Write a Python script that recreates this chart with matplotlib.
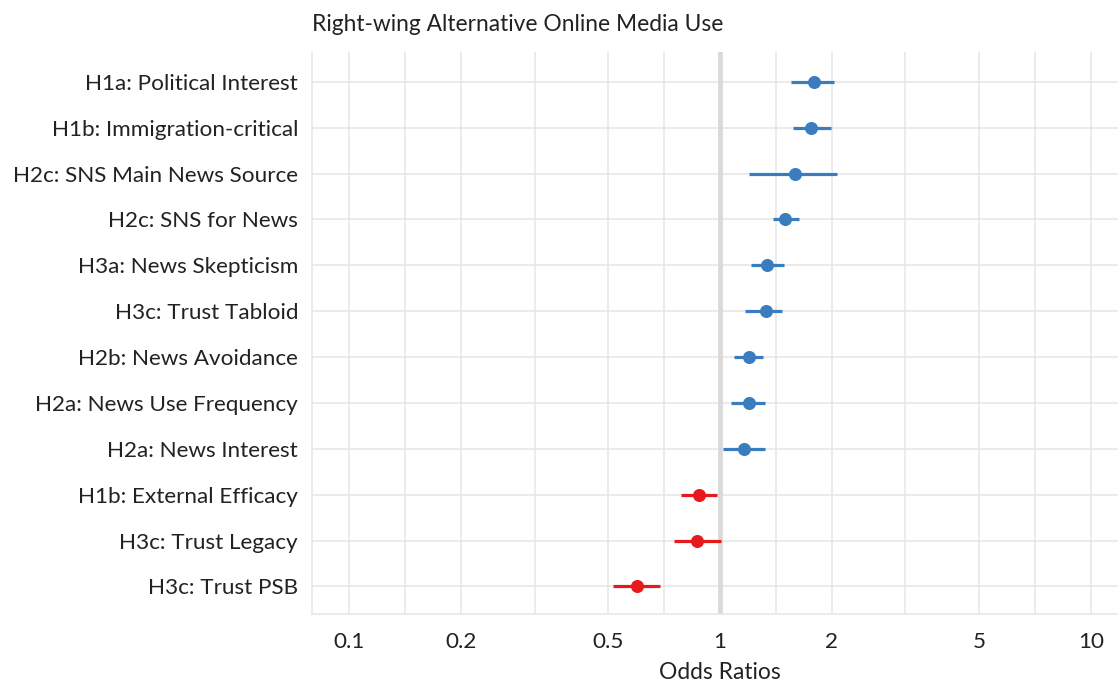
import numpy as np
import matplotlib
matplotlib.use('Agg')
import matplotlib.pyplot as plt
from matplotlib.ticker import FixedLocator, FixedFormatter, NullFormatter

plt.rcParams['font.family'] = ['Lato', 'DejaVu Sans']

# data, top row first
labels = ['H1a: Political Interest', 'H1b: Immigration-critical',
          'H2c: SNS Main News Source', 'H2c: SNS for News',
          'H3a: News Skepticism', 'H3c: Trust Tabloid',
          'H2b: News Avoidance', 'H2a: News Use Frequency',
          'H2a: News Interest', 'H1b: External Efficacy',
          'H3c: Trust Legacy', 'H3c: Trust PSB']
odds = [1.79, 1.76, 1.59, 1.50, 1.34, 1.33, 1.195, 1.195, 1.16, 0.878, 0.867, 0.596]
ci_low = [1.55, 1.57, 1.20, 1.39, 1.21, 1.17, 1.09, 1.07, 1.02, 0.785, 0.751, 0.516]
ci_high = [2.03, 1.99, 2.07, 1.63, 1.49, 1.47, 1.31, 1.32, 1.32, 0.980, 1.004, 0.689]
xticks = [0.1, 0.2, 0.5, 1, 2, 5, 10]
xtick_labels = ['0.1', '0.2', '0.5', '1', '2', '5', '10']

blue = '#3a7dbf'
red = '#e41a1c'
grid_c = '#e5e5e5'
text_c = '#222222'

fig = plt.figure(figsize=(11.18, 6.82), dpi=100)
ax = fig.add_axes([312/1118, 1-614/682, (1128-312)/1118, (614-52)/682])

n = len(labels)
ypos = np.arange(n)[::-1]

ax.set_xscale('log')
ax.set_xlim(10**-1.1, 10**1.1)
ax.set_ylim(-0.6, n - 1 + 0.65)

# minor gridlines halfway between the breaks (log space)
minor = [np.sqrt(a*b) for a, b in zip(xticks[:-1], xticks[1:])]
ax.xaxis.set_major_locator(FixedLocator(xticks))
ax.xaxis.set_major_formatter(FixedFormatter(xtick_labels))
ax.xaxis.set_minor_locator(FixedLocator(minor))
ax.xaxis.set_minor_formatter(NullFormatter())

ax.grid(True, which='both', axis='x', color=grid_c, lw=1.1, zorder=0)
ax.grid(True, which='major', axis='y', color=grid_c, lw=1.1, zorder=0)
ax.set_axisbelow(True)

ax.axvline(1, color='#d9d9d9', lw=3.4, zorder=1)

for i in range(n):
    c = blue if odds[i] > 1 else red
    ax.plot([ci_low[i], ci_high[i]], [ypos[i], ypos[i]], color=c, lw=2.3,
            solid_capstyle='butt', zorder=3)
    ax.plot(odds[i], ypos[i], 'o', color=c, ms=9.4, mec='none', zorder=4)

ax.set_yticks(ypos)
ax.set_yticklabels(labels)

for s in ['top', 'right']:
    ax.spines[s].set_visible(False)
for s in ['left', 'bottom']:
    ax.spines[s].set_color(grid_c)
    ax.spines[s].set_linewidth(1.1)

ax.tick_params(axis='both', which='both', length=0, colors=text_c, labelsize=16.2)
ax.tick_params(axis='y', pad=10)
ax.tick_params(axis='x', pad=13)

ax.set_xlabel('Odds Ratios', fontsize=16.4, color=text_c, labelpad=7)
ax.set_title('Right-wing Alternative Online Media Use', loc='left',
             fontsize=16.4, color=text_c, pad=15, x=0)

fig.savefig('out.png', dpi=100)
